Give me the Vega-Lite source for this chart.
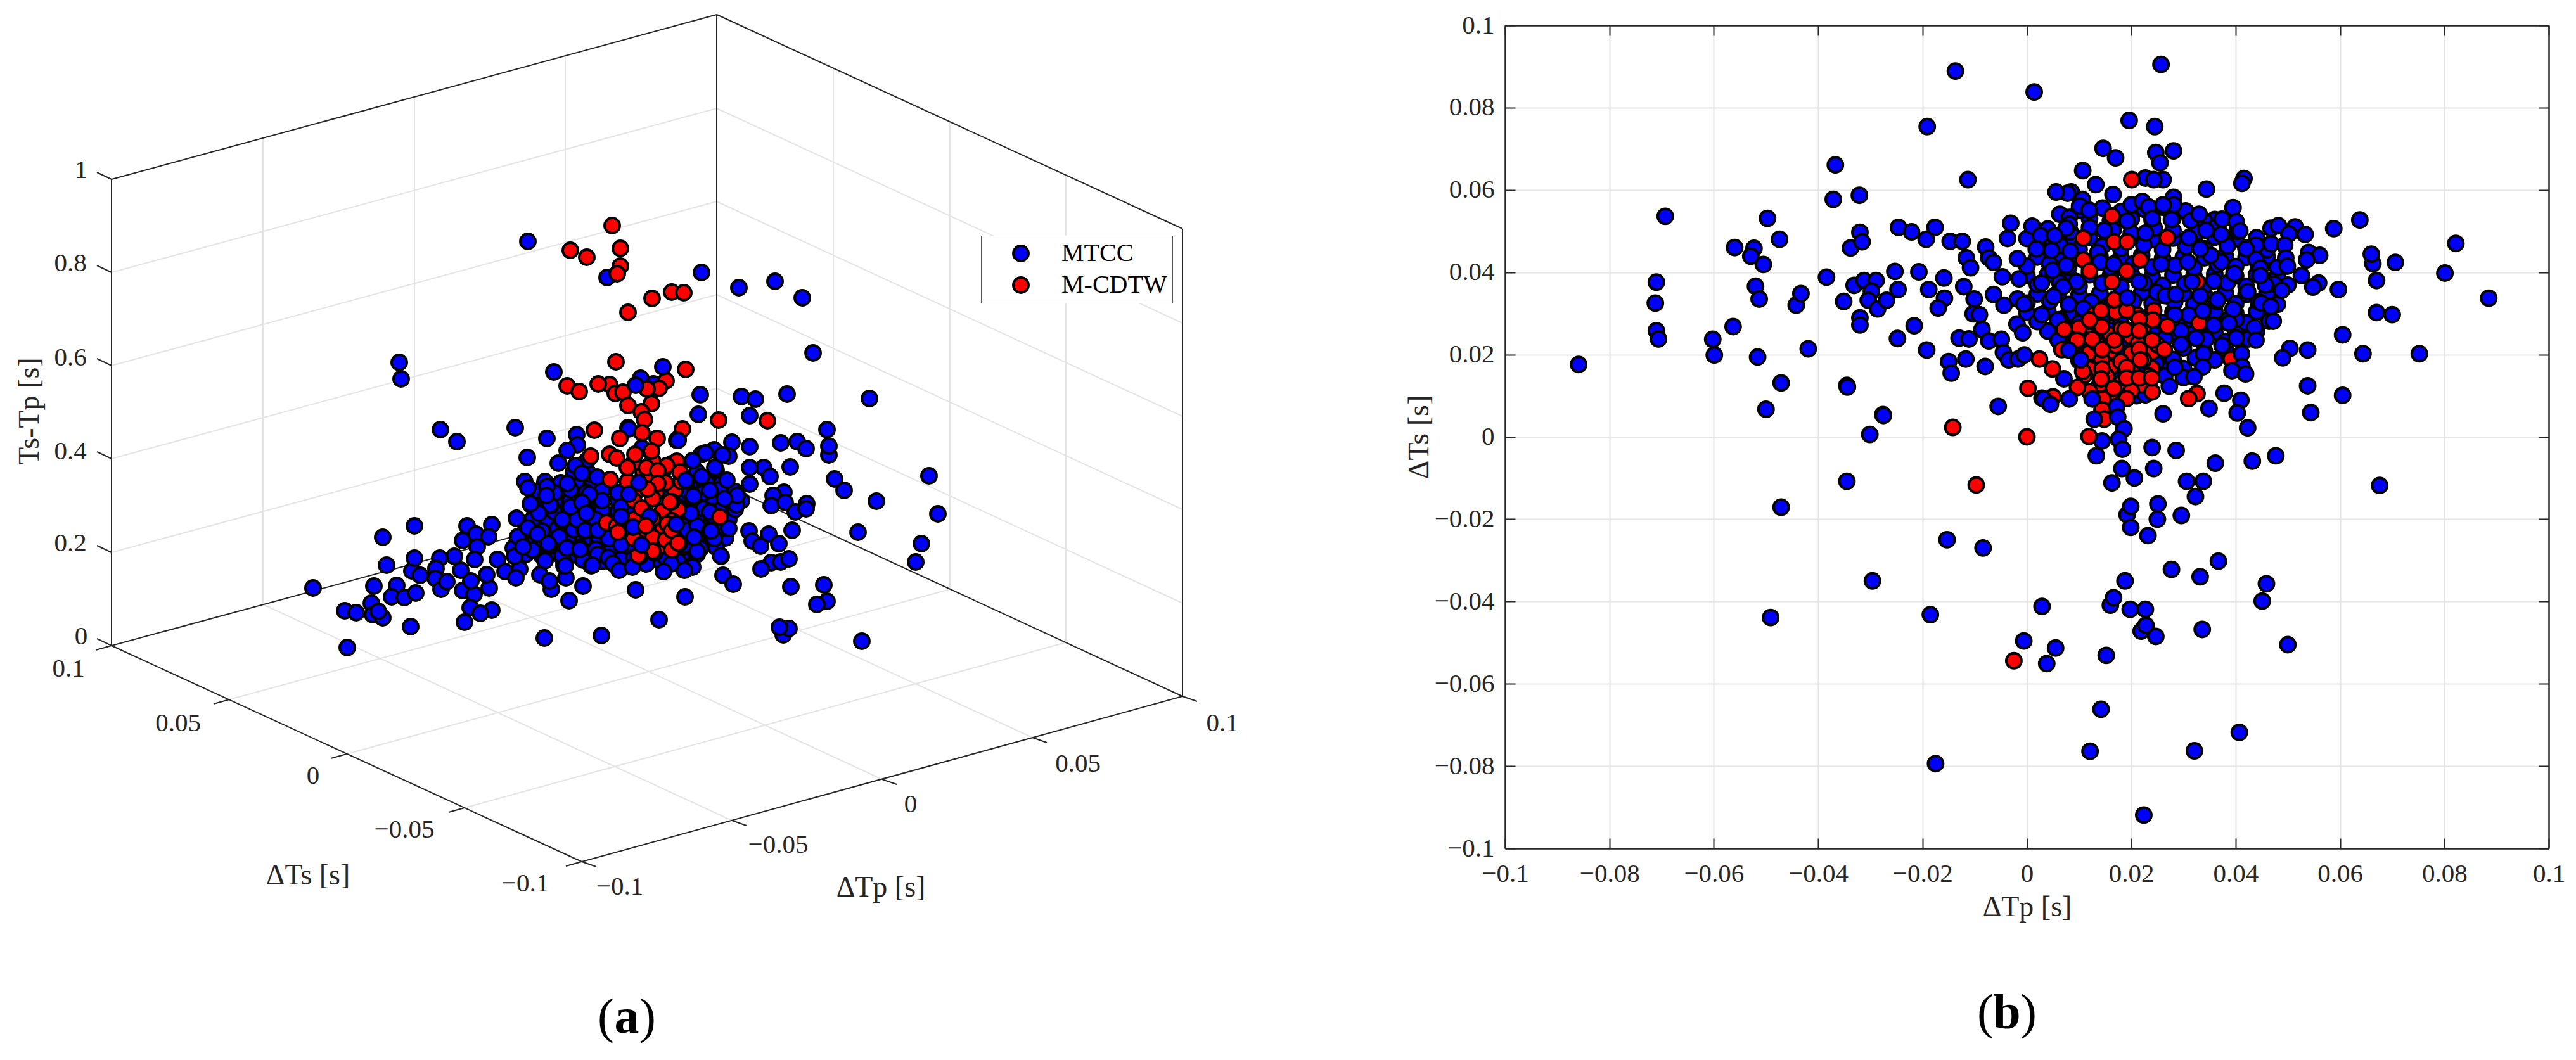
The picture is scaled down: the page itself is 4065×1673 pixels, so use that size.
{
"$schema":"https://vega.github.io/schema/vega-lite/v6.json",
"description":"MTCC vs M-CDTW residuals, 3D view (a) and plan view (b).",
"padding":{"left":0,"top":19,"right":0,"bottom":0},
"background":"white",
"config":{"view":{"stroke":null}},
"bounds":"flush",
"spacing":75,
"resolve":{"scale":{"fill":"independent"},"legend":{"fill":"independent"}},
"datasets":{
"grid3d":[
{"u":0.176,"v":0.872,"u2":1.131,"v2":0.613},{"u":0.176,"v":0.724,"u2":1.131,"v2":0.465},{"u":0.176,"v":0.577,"u2":1.131,"v2":0.318},{"u":0.176,"v":0.430,"u2":1.131,"v2":0.171},
{"u":1.131,"v":0.613,"u2":1.866,"v2":0.952},{"u":1.131,"v":0.465,"u2":1.866,"v2":0.804},{"u":1.131,"v":0.318,"u2":1.866,"v2":0.657},{"u":1.131,"v":0.171,"u2":1.866,"v2":0.510},
{"u":0.415,"v":0.954,"u2":0.415,"v2":0.218},{"u":0.654,"v":0.889,"u2":0.654,"v2":0.153},{"u":0.892,"v":0.825,"u2":0.892,"v2":0.088},
{"u":1.315,"v":0.845,"u2":1.315,"v2":0.108},{"u":1.499,"v":0.930,"u2":1.499,"v2":0.193},{"u":1.682,"v":1.014,"u2":1.682,"v2":0.277},
{"u":0.362,"v":1.104,"u2":1.315,"v2":0.845},{"u":0.547,"v":1.190,"u2":1.499,"v2":0.930},{"u":0.733,"v":1.275,"u2":1.682,"v2":1.014},
{"u":0.415,"v":0.954,"u2":1.155,"v2":1.295},{"u":0.654,"v":0.889,"u2":1.392,"v2":1.230},{"u":0.892,"v":0.825,"u2":1.629,"v2":1.164}
],
"frame3d":[
{"u":0.176,"v":0.283,"u2":0.176,"v2":1.019},{"u":0.176,"v":1.019,"u2":0.918,"v2":1.360},{"u":0.918,"v":1.360,"u2":1.866,"v2":1.099},{"u":1.866,"v":1.099,"u2":1.866,"v2":0.361},
{"u":0.176,"v":0.283,"u2":1.131,"v2":0.023},{"u":1.131,"v":0.023,"u2":1.866,"v2":0.361},{"u":1.131,"v":0.023,"u2":1.131,"v2":0.760},{"u":0.176,"v":1.019,"u2":1.131,"v2":0.760},{"u":1.131,"v":0.760,"u2":1.866,"v2":1.099},
{"u":0.153,"v":0.272,"u2":0.176,"v2":0.283},{"u":0.153,"v":0.419,"u2":0.176,"v2":0.430},{"u":0.153,"v":0.566,"u2":0.176,"v2":0.577},{"u":0.153,"v":0.713,"u2":0.176,"v2":0.724},{"u":0.153,"v":0.861,"u2":0.176,"v2":0.872},{"u":0.153,"v":1.008,"u2":0.176,"v2":1.019},
{"u":0.151,"v":1.026,"u2":0.176,"v2":1.019},{"u":0.337,"v":1.111,"u2":0.362,"v2":1.104},{"u":0.522,"v":1.197,"u2":0.547,"v2":1.190},{"u":0.708,"v":1.282,"u2":0.733,"v2":1.275},{"u":0.893,"v":1.367,"u2":0.918,"v2":1.360},
{"u":0.918,"v":1.360,"u2":0.941,"v2":1.368},{"u":1.155,"v":1.295,"u2":1.178,"v2":1.303},{"u":1.392,"v":1.230,"u2":1.415,"v2":1.238},{"u":1.629,"v":1.164,"u2":1.652,"v2":1.172},{"u":1.866,"v":1.099,"u2":1.889,"v2":1.107}
],
"text3d":[
{"u":0.128,"v":0.269,"t":"1"},{"u":0.111,"v":0.416,"t":"0.8"},{"u":0.111,"v":0.565,"t":"0.6"},{"u":0.111,"v":0.713,"t":"0.4"},{"u":0.111,"v":0.858,"t":"0.2"},{"u":0.128,"v":1.005,"t":"0"},
{"u":0.108,"v":1.056,"t":"0.1"},{"u":0.281,"v":1.142,"t":"0.05"},{"u":0.494,"v":1.225,"t":"0"},{"u":0.638,"v":1.310,"t":"−0.05"},{"u":0.829,"v":1.395,"t":"−0.1"},
{"u":0.978,"v":1.400,"t":"−0.1"},{"u":1.228,"v":1.334,"t":"−0.05"},{"u":1.437,"v":1.270,"t":"0"},{"u":1.701,"v":1.206,"t":"0.05"},{"u":1.929,"v":1.142,"t":"0.1"}
],
"title3d":[{"u":0.486,"v":1.382,"t":"ΔTs [s]"},{"u":1.390,"v":1.401,"t":"ΔTp [s]"}],
"pts_a":[
{"u":0.86,"v":0.76,"m":"MTCC"},{"u":0.885,"v":0.762,"m":"MTCC"},{"u":0.91,"v":0.759,"m":"MTCC"},{"u":0.935,"v":0.761,"m":"MTCC"},{"u":0.96,"v":0.763,"m":"MTCC"},{"u":1.09,"v":0.76,"m":"MTCC"},{"u":1.115,"v":0.762,"m":"MTCC"},{"u":1.14,"v":0.759,"m":"MTCC"},
{"u":0.85,"v":0.79,"m":"MTCC"},{"u":0.875,"v":0.792,"m":"MTCC"},{"u":0.9,"v":0.789,"m":"MTCC"},{"u":0.925,"v":0.791,"m":"MTCC"},{"u":0.95,"v":0.793,"m":"MTCC"},{"u":0.975,"v":0.79,"m":"MTCC"},{"u":1.07,"v":0.792,"m":"MTCC"},{"u":1.095,"v":0.789,"m":"MTCC"},{"u":1.12,"v":0.791,"m":"MTCC"},{"u":1.145,"v":0.793,"m":"MTCC"},{"u":1.17,"v":0.79,"m":"MTCC"},
{"u":0.84,"v":0.82,"m":"MTCC"},{"u":0.865,"v":0.822,"m":"MTCC"},{"u":0.89,"v":0.819,"m":"MTCC"},{"u":0.915,"v":0.821,"m":"MTCC"},{"u":0.94,"v":0.823,"m":"MTCC"},{"u":0.965,"v":0.82,"m":"MTCC"},{"u":0.99,"v":0.822,"m":"MTCC"},{"u":1.075,"v":0.819,"m":"MTCC"},{"u":1.1,"v":0.821,"m":"MTCC"},{"u":1.125,"v":0.823,"m":"MTCC"},{"u":1.15,"v":0.82,"m":"MTCC"},
{"u":0.82,"v":0.85,"m":"MTCC"},{"u":0.845,"v":0.852,"m":"MTCC"},{"u":0.87,"v":0.849,"m":"MTCC"},{"u":0.895,"v":0.851,"m":"MTCC"},{"u":0.92,"v":0.853,"m":"MTCC"},{"u":0.945,"v":0.85,"m":"MTCC"},{"u":0.97,"v":0.852,"m":"MTCC"},{"u":1.01,"v":0.849,"m":"MTCC"},{"u":1.04,"v":0.851,"m":"MTCC"},{"u":1.075,"v":0.853,"m":"MTCC"},{"u":1.1,"v":0.85,"m":"MTCC"},{"u":1.125,"v":0.852,"m":"MTCC"},{"u":1.145,"v":0.849,"m":"MTCC"},
{"u":0.83,"v":0.875,"m":"MTCC"},{"u":0.855,"v":0.877,"m":"MTCC"},{"u":0.88,"v":0.874,"m":"MTCC"},{"u":0.905,"v":0.876,"m":"MTCC"},{"u":0.93,"v":0.878,"m":"MTCC"},{"u":0.955,"v":0.875,"m":"MTCC"},{"u":0.985,"v":0.877,"m":"MTCC"},{"u":1.015,"v":0.874,"m":"MTCC"},{"u":1.045,"v":0.876,"m":"MTCC"},{"u":1.075,"v":0.878,"m":"MTCC"},{"u":1.1,"v":0.875,"m":"MTCC"},
{"u":0.905,"v":0.745,"m":"MTCC"},{"u":0.93,"v":0.748,"m":"MTCC"},{"u":1.1,"v":0.745,"m":"MTCC"},{"u":1.13,"v":0.742,"m":"MTCC"},
{"u":0.85,"v":0.775,"m":"MTCC"},{"u":0.875,"v":0.778,"m":"MTCC"},{"u":0.9,"v":0.773,"m":"MTCC"},{"u":0.925,"v":0.777,"m":"MTCC"},{"u":0.95,"v":0.774,"m":"MTCC"},{"u":0.975,"v":0.778,"m":"MTCC"},{"u":1.085,"v":0.775,"m":"MTCC"},{"u":1.11,"v":0.778,"m":"MTCC"},{"u":1.135,"v":0.773,"m":"MTCC"},{"u":1.16,"v":0.776,"m":"MTCC"},
{"u":0.85,"v":0.805,"m":"MTCC"},{"u":0.875,"v":0.808,"m":"MTCC"},{"u":0.9,"v":0.803,"m":"MTCC"},{"u":0.925,"v":0.806,"m":"MTCC"},{"u":0.95,"v":0.804,"m":"MTCC"},{"u":0.975,"v":0.807,"m":"MTCC"},{"u":1.0,"v":0.803,"m":"MTCC"},{"u":1.06,"v":0.805,"m":"MTCC"},{"u":1.085,"v":0.808,"m":"MTCC"},{"u":1.11,"v":0.803,"m":"MTCC"},{"u":1.135,"v":0.806,"m":"MTCC"},{"u":1.16,"v":0.804,"m":"MTCC"},
{"u":0.83,"v":0.835,"m":"MTCC"},{"u":0.855,"v":0.838,"m":"MTCC"},{"u":0.88,"v":0.833,"m":"MTCC"},{"u":0.905,"v":0.836,"m":"MTCC"},{"u":0.93,"v":0.834,"m":"MTCC"},{"u":0.955,"v":0.837,"m":"MTCC"},{"u":0.98,"v":0.833,"m":"MTCC"},{"u":1.0,"v":0.836,"m":"MTCC"},{"u":1.03,"v":0.834,"m":"MTCC"},{"u":1.085,"v":0.837,"m":"MTCC"},{"u":1.11,"v":0.833,"m":"MTCC"},{"u":1.135,"v":0.836,"m":"MTCC"},{"u":1.15,"v":0.834,"m":"MTCC"},
{"u":0.81,"v":0.865,"m":"MTCC"},{"u":0.84,"v":0.868,"m":"MTCC"},{"u":0.865,"v":0.863,"m":"MTCC"},{"u":0.89,"v":0.866,"m":"MTCC"},{"u":0.915,"v":0.864,"m":"MTCC"},{"u":0.94,"v":0.867,"m":"MTCC"},{"u":0.965,"v":0.863,"m":"MTCC"},{"u":0.99,"v":0.866,"m":"MTCC"},{"u":1.02,"v":0.864,"m":"MTCC"},{"u":1.05,"v":0.867,"m":"MTCC"},{"u":1.08,"v":0.863,"m":"MTCC"},{"u":1.105,"v":0.866,"m":"MTCC"},{"u":1.13,"v":0.864,"m":"MTCC"},
{"u":0.86,"v":0.885,"m":"MTCC"},{"u":0.89,"v":0.887,"m":"MTCC"},{"u":0.92,"v":0.884,"m":"MTCC"},{"u":0.95,"v":0.886,"m":"MTCC"},{"u":0.98,"v":0.883,"m":"MTCC"},{"u":1.01,"v":0.885,"m":"MTCC"},{"u":1.04,"v":0.884,"m":"MTCC"},{"u":1.07,"v":0.886,"m":"MTCC"},
{"u":0.494,"v":0.928,"m":"MTCC"},{"u":0.548,"v":1.022,"m":"MTCC"},{"u":0.544,"v":0.964,"m":"MTCC"},{"u":0.562,"v":0.967,"m":"MTCC"},{"u":0.586,"v":0.952,"m":"MTCC"},{"u":0.588,"v":0.970,"m":"MTCC"},{"u":0.604,"v":0.975,"m":"MTCC"},{"u":0.597,"v":0.965,"m":"MTCC"},
{"u":0.604,"v":0.848,"m":"MTCC"},{"u":0.654,"v":0.830,"m":"MTCC"},{"u":0.610,"v":0.892,"m":"MTCC"},{"u":0.590,"v":0.925,"m":"MTCC"},{"u":0.626,"v":0.924,"m":"MTCC"},{"u":0.618,"v":0.942,"m":"MTCC"},{"u":0.638,"v":0.943,"m":"MTCC"},{"u":0.656,"v":0.936,"m":"MTCC"},{"u":0.648,"v":0.989,"m":"MTCC"},
{"u":0.650,"v":0.901,"m":"MTCC"},{"u":0.654,"v":0.881,"m":"MTCC"},{"u":0.663,"v":0.908,"m":"MTCC"},{"u":0.717,"v":0.878,"m":"MTCC"},{"u":0.694,"v":0.881,"m":"MTCC"},{"u":0.688,"v":0.897,"m":"MTCC"},{"u":0.687,"v":0.913,"m":"MTCC"},{"u":0.696,"v":0.930,"m":"MTCC"},{"u":0.705,"v":0.918,"m":"MTCC"},
{"u":0.737,"v":0.830,"m":"MTCC"},{"u":0.776,"v":0.828,"m":"MTCC"},{"u":0.730,"v":0.853,"m":"MTCC"},{"u":0.751,"v":0.843,"m":"MTCC"},{"u":0.771,"v":0.847,"m":"MTCC"},{"u":0.753,"v":0.863,"m":"MTCC"},{"u":0.749,"v":0.883,"m":"MTCC"},
{"u":0.727,"v":0.900,"m":"MTCC"},{"u":0.730,"v":0.932,"m":"MTCC"},{"u":0.772,"v":0.928,"m":"MTCC"},{"u":0.748,"v":0.938,"m":"MTCC"},{"u":0.768,"v":0.907,"m":"MTCC"},{"u":0.743,"v":0.917,"m":"MTCC"},
{"u":0.742,"v":0.959,"m":"MTCC"},{"u":0.776,"v":0.963,"m":"MTCC"},{"u":0.758,"v":0.968,"m":"MTCC"},{"u":0.733,"v":0.982,"m":"MTCC"},
{"u":0.785,"v":0.883,"m":"MTCC"},{"u":0.797,"v":0.902,"m":"MTCC"},{"u":0.815,"v":0.818,"m":"MTCC"},{"u":0.820,"v":0.898,"m":"MTCC"},{"u":0.814,"v":0.912,"m":"MTCC"},{"u":0.812,"v":0.878,"m":"MTCC"},{"u":0.817,"v":0.847,"m":"MTCC"},{"u":0.825,"v":0.863,"m":"MTCC"},{"u":0.833,"v":0.833,"m":"MTCC"},
{"u":0.852,"v":0.907,"m":"MTCC"},{"u":0.870,"v":0.930,"m":"MTCC"},{"u":0.867,"v":0.917,"m":"MTCC"},{"u":0.898,"v":0.948,"m":"MTCC"},{"u":0.920,"v":0.925,"m":"MTCC"},{"u":0.893,"v":0.912,"m":"MTCC"},{"u":0.859,"v":1.007,"m":"MTCC"},{"u":0.949,"v":1.003,"m":"MTCC"},{"u":0.890,"v":0.893,"m":"MTCC"},
{"u":0.828,"v":0.760,"m":"MTCC"},{"u":0.833,"v":0.770,"m":"MTCC"},{"u":0.838,"v":0.797,"m":"MTCC"},{"u":0.863,"v":0.768,"m":"MTCC"},{"u":0.895,"v":0.763,"m":"MTCC"},{"u":0.869,"v":0.798,"m":"MTCC"},{"u":0.897,"v":0.807,"m":"MTCC"},{"u":0.925,"v":0.812,"m":"MTCC"},{"u":0.920,"v":0.793,"m":"MTCC"},{"u":0.922,"v":0.838,"m":"MTCC"},{"u":0.912,"v":0.867,"m":"MTCC"},{"u":0.893,"v":0.863,"m":"MTCC"},{"u":0.882,"v":0.849,"m":"MTCC"},{"u":0.867,"v":0.862,"m":"MTCC"},{"u":0.848,"v":0.843,"m":"MTCC"},{"u":0.887,"v":0.877,"m":"MTCC"},{"u":0.943,"v":0.875,"m":"MTCC"},{"u":0.933,"v":0.893,"m":"MTCC"},{"u":0.887,"v":0.822,"m":"MTCC"},
{"u":0.950,"v":0.790,"m":"MTCC"},{"u":0.980,"v":0.800,"m":"MTCC"},{"u":1.000,"v":0.810,"m":"MTCC"},{"u":0.960,"v":0.850,"m":"MTCC"},{"u":0.980,"v":0.860,"m":"MTCC"},{"u":1.000,"v":0.880,"m":"MTCC"},{"u":1.040,"v":0.870,"m":"MTCC"},{"u":1.060,"v":0.870,"m":"MTCC"},{"u":1.080,"v":0.860,"m":"MTCC"},{"u":1.100,"v":0.830,"m":"MTCC"},{"u":1.090,"v":0.810,"m":"MTCC"},{"u":1.060,"v":0.780,"m":"MTCC"},{"u":1.070,"v":0.800,"m":"MTCC"},{"u":0.930,"v":0.780,"m":"MTCC"},{"u":0.910,"v":0.820,"m":"MTCC"},{"u":0.940,"v":0.820,"m":"MTCC"},{"u":0.960,"v":0.880,"m":"MTCC"},{"u":1.020,"v":0.890,"m":"MTCC"},{"u":1.050,"v":0.880,"m":"MTCC"},{"u":1.100,"v":0.870,"m":"MTCC"},
{"u":0.833,"v":0.381,"m":"MTCC"},{"u":0.958,"v":0.438,"m":"MTCC"},{"u":1.107,"v":0.430,"m":"MTCC"},{"u":1.166,"v":0.454,"m":"MTCC"},{"u":1.223,"v":0.444,"m":"MTCC"},{"u":1.266,"v":0.470,"m":"MTCC"},{"u":1.283,"v":0.557,"m":"MTCC"},{"u":0.630,"v":0.572,"m":"MTCC"},{"u":0.633,"v":0.598,"m":"MTCC"},{"u":0.874,"v":0.587,"m":"MTCC"},
{"u":1.011,"v":0.597,"m":"MTCC"},{"u":1.031,"v":0.606,"m":"MTCC"},{"u":0.991,"v":0.675,"m":"MTCC"},
{"u":0.695,"v":0.678,"m":"MTCC"},{"u":0.721,"v":0.697,"m":"MTCC"},{"u":0.813,"v":0.675,"m":"MTCC"},{"u":0.863,"v":0.692,"m":"MTCC"},{"u":0.832,"v":0.722,"m":"MTCC"},
{"u":0.910,"v":0.686,"m":"MTCC"},{"u":0.911,"v":0.702,"m":"MTCC"},{"u":0.895,"v":0.711,"m":"MTCC"},{"u":0.927,"v":0.726,"m":"MTCC"},{"u":0.881,"v":0.731,"m":"MTCC"},{"u":0.908,"v":0.735,"m":"MTCC"},{"u":0.918,"v":0.747,"m":"MTCC"},{"u":0.942,"v":0.753,"m":"MTCC"},{"u":0.992,"v":0.677,"m":"MTCC"},{"u":1.013,"v":0.707,"m":"MTCC"},{"u":1.070,"v":0.693,"m":"MTCC"},
{"u":1.105,"v":0.623,"m":"MTCC"},{"u":1.102,"v":0.654,"m":"MTCC"},{"u":1.170,"v":0.626,"m":"MTCC"},{"u":1.192,"v":0.630,"m":"MTCC"},{"u":1.183,"v":0.656,"m":"MTCC"},{"u":1.242,"v":0.622,"m":"MTCC"},{"u":1.372,"v":0.629,"m":"MTCC"},{"u":1.305,"v":0.678,"m":"MTCC"},{"u":1.308,"v":0.718,"m":"MTCC"},{"u":1.308,"v":0.704,"m":"MTCC"},{"u":1.232,"v":0.699,"m":"MTCC"},{"u":1.258,"v":0.697,"m":"MTCC"},{"u":1.272,"v":0.708,"m":"MTCC"},{"u":1.247,"v":0.737,"m":"MTCC"},{"u":1.317,"v":0.756,"m":"MTCC"},{"u":1.332,"v":0.774,"m":"MTCC"},{"u":1.466,"v":0.751,"m":"MTCC"},{"u":1.383,"v":0.791,"m":"MTCC"},{"u":1.480,"v":0.811,"m":"MTCC"},{"u":1.354,"v":0.840,"m":"MTCC"},{"u":1.454,"v":0.858,"m":"MTCC"},{"u":1.445,"v":0.887,"m":"MTCC"},
{"u":1.068,"v":0.695,"m":"MTCC"},{"u":1.155,"v":0.698,"m":"MTCC"},{"u":1.183,"v":0.705,"m":"MTCC"},{"u":1.150,"v":0.720,"m":"MTCC"},{"u":1.127,"v":0.710,"m":"MTCC"},{"u":1.107,"v":0.717,"m":"MTCC"},{"u":1.093,"v":0.727,"m":"MTCC"},{"u":1.113,"v":0.715,"m":"MTCC"},{"u":1.140,"v":0.718,"m":"MTCC"},
{"u":1.128,"v":0.738,"m":"MTCC"},{"u":1.106,"v":0.753,"m":"MTCC"},{"u":1.083,"v":0.759,"m":"MTCC"},{"u":1.147,"v":0.758,"m":"MTCC"},{"u":1.205,"v":0.738,"m":"MTCC"},{"u":1.183,"v":0.738,"m":"MTCC"},{"u":1.215,"v":0.752,"m":"MTCC"},{"u":1.183,"v":0.764,"m":"MTCC"},{"u":1.120,"v":0.774,"m":"MTCC"},{"u":1.094,"v":0.785,"m":"MTCC"},{"u":1.162,"v":0.797,"m":"MTCC"},{"u":1.163,"v":0.782,"m":"MTCC"},{"u":1.143,"v":0.787,"m":"MTCC"},{"u":1.120,"v":0.807,"m":"MTCC"},
{"u":1.237,"v":0.777,"m":"MTCC"},{"u":1.220,"v":0.782,"m":"MTCC"},{"u":1.217,"v":0.798,"m":"MTCC"},{"u":1.239,"v":0.793,"m":"MTCC"},{"u":1.273,"v":0.795,"m":"MTCC"},{"u":1.255,"v":0.808,"m":"MTCC"},{"u":1.272,"v":0.803,"m":"MTCC"},{"u":1.250,"v":0.837,"m":"MTCC"},
{"u":1.182,"v":0.838,"m":"MTCC"},{"u":1.213,"v":0.843,"m":"MTCC"},{"u":1.187,"v":0.854,"m":"MTCC"},{"u":1.200,"v":0.862,"m":"MTCC"},{"u":1.229,"v":0.858,"m":"MTCC"},{"u":1.217,"v":0.888,"m":"MTCC"},{"u":1.232,"v":0.887,"m":"MTCC"},{"u":1.245,"v":0.882,"m":"MTCC"},{"u":1.201,"v":0.898,"m":"MTCC"},
{"u":1.138,"v":0.878,"m":"MTCC"},{"u":1.141,"v":0.908,"m":"MTCC"},{"u":1.157,"v":0.922,"m":"MTCC"},{"u":1.248,"v":0.926,"m":"MTCC"},{"u":1.305,"v":0.949,"m":"MTCC"},{"u":1.300,"v":0.923,"m":"MTCC"},{"u":1.289,"v":0.954,"m":"MTCC"},{"u":1.236,"v":1.002,"m":"MTCC"},{"u":1.245,"v":0.992,"m":"MTCC"},{"u":1.230,"v":0.990,"m":"MTCC"},{"u":1.360,"v":1.012,"m":"MTCC"},
{"u":1.081,"v":0.942,"m":"MTCC"},{"u":1.040,"v":0.978,"m":"MTCC"},{"u":1.003,"v":0.931,"m":"MTCC"},{"u":1.120,"v":0.837,"m":"MTCC"},{"u":1.127,"v":0.850,"m":"MTCC"},{"u":1.095,"v":0.848,"m":"MTCC"},{"u":1.122,"v":0.838,"m":"MTCC"},{"u":1.093,"v":0.895,"m":"MTCC"},{"u":1.080,"v":0.900,"m":"MTCC"},{"u":1.059,"v":0.890,"m":"MTCC"},{"u":1.047,"v":0.902,"m":"MTCC"},
{"u":0.868,"v":0.797,"m":"MTCC"},{"u":0.862,"v":0.782,"m":"MTCC"},{"u":0.850,"v":0.810,"m":"MTCC"},{"u":0.837,"v":0.795,"m":"MTCC"},{"u":0.900,"v":0.800,"m":"MTCC"},{"u":0.918,"v":0.793,"m":"MTCC"},{"u":0.925,"v":0.810,"m":"MTCC"},{"u":0.887,"v":0.820,"m":"MTCC"},{"u":0.882,"v":0.847,"m":"MTCC"},{"u":0.865,"v":0.858,"m":"MTCC"},{"u":0.923,"v":0.837,"m":"MTCC"},{"u":0.943,"v":0.837,"m":"MTCC"},{"u":0.894,"v":0.865,"m":"MTCC"},{"u":0.915,"v":0.867,"m":"MTCC"},
{"u":0.892,"v":0.893,"m":"MTCC"},{"u":0.935,"v":0.892,"m":"MTCC"},{"u":0.967,"v":0.889,"m":"MTCC"},{"u":0.977,"v":0.900,"m":"MTCC"},{"u":0.998,"v":0.895,"m":"MTCC"},{"u":1.033,"v":0.873,"m":"MTCC"},{"u":1.137,"v":0.877,"m":"MTCC"},
{"u":1.015,"v":0.745,"m":"M-CDTW"},{"u":1.045,"v":0.747,"m":"M-CDTW"},{"u":1.005,"v":0.775,"m":"M-CDTW"},{"u":1.035,"v":0.777,"m":"M-CDTW"},{"u":1.065,"v":0.774,"m":"M-CDTW"},{"u":1.015,"v":0.805,"m":"M-CDTW"},{"u":1.045,"v":0.807,"m":"M-CDTW"},{"u":1.07,"v":0.804,"m":"M-CDTW"},{"u":1.015,"v":0.835,"m":"M-CDTW"},{"u":1.045,"v":0.837,"m":"M-CDTW"},{"u":1.015,"v":0.86,"m":"M-CDTW"},{"u":1.045,"v":0.862,"m":"M-CDTW"},
{"u":1.0,"v":0.73,"m":"M-CDTW"},{"u":1.03,"v":0.728,"m":"M-CDTW"},{"u":1.06,"v":0.732,"m":"M-CDTW"},{"u":0.99,"v":0.76,"m":"M-CDTW"},{"u":1.02,"v":0.757,"m":"M-CDTW"},{"u":1.05,"v":0.762,"m":"M-CDTW"},{"u":1.075,"v":0.76,"m":"M-CDTW"},{"u":1.0,"v":0.79,"m":"M-CDTW"},{"u":1.03,"v":0.787,"m":"M-CDTW"},{"u":1.06,"v":0.792,"m":"M-CDTW"},{"u":1.0,"v":0.82,"m":"M-CDTW"},{"u":1.03,"v":0.818,"m":"M-CDTW"},{"u":1.06,"v":0.822,"m":"M-CDTW"},{"u":1.0,"v":0.85,"m":"M-CDTW"},{"u":1.03,"v":0.848,"m":"M-CDTW"},{"u":1.05,"v":0.852,"m":"M-CDTW"},{"u":1.03,"v":0.87,"m":"M-CDTW"},{"u":1.06,"v":0.868,"m":"M-CDTW"},
{"u":0.966,"v":0.356,"m":"M-CDTW"},{"u":0.979,"v":0.420,"m":"M-CDTW"},{"u":0.979,"v":0.392,"m":"M-CDTW"},{"u":0.974,"v":0.432,"m":"M-CDTW"},{"u":0.900,"v":0.395,"m":"M-CDTW"},{"u":0.926,"v":0.406,"m":"M-CDTW"},{"u":0.991,"v":0.493,"m":"M-CDTW"},{"u":1.029,"v":0.471,"m":"M-CDTW"},{"u":1.060,"v":0.461,"m":"M-CDTW"},{"u":1.079,"v":0.462,"m":"M-CDTW"},{"u":0.972,"v":0.571,"m":"M-CDTW"},{"u":1.082,"v":0.583,"m":"M-CDTW"},
{"u":0.895,"v":0.609,"m":"M-CDTW"},{"u":0.914,"v":0.618,"m":"M-CDTW"},{"u":0.962,"v":0.607,"m":"M-CDTW"},{"u":0.944,"v":0.606,"m":"M-CDTW"},{"u":0.971,"v":0.621,"m":"M-CDTW"},{"u":0.983,"v":0.619,"m":"M-CDTW"},{"u":1.051,"v":0.601,"m":"M-CDTW"},{"u":1.040,"v":0.613,"m":"M-CDTW"},{"u":1.021,"v":0.614,"m":"M-CDTW"},{"u":1.028,"v":0.637,"m":"M-CDTW"},{"u":0.991,"v":0.640,"m":"M-CDTW"},{"u":1.012,"v":0.650,"m":"M-CDTW"},{"u":1.017,"v":0.662,"m":"M-CDTW"},{"u":1.134,"v":0.663,"m":"M-CDTW"},{"u":1.211,"v":0.664,"m":"M-CDTW"},
{"u":1.013,"v":0.683,"m":"M-CDTW"},{"u":1.037,"v":0.692,"m":"M-CDTW"},{"u":0.978,"v":0.692,"m":"M-CDTW"},{"u":1.077,"v":0.677,"m":"M-CDTW"},{"u":0.938,"v":0.679,"m":"M-CDTW"},{"u":0.932,"v":0.720,"m":"M-CDTW"},{"u":0.962,"v":0.717,"m":"M-CDTW"},{"u":0.973,"v":0.723,"m":"M-CDTW"},{"u":1.002,"v":0.717,"m":"M-CDTW"},{"u":1.028,"v":0.712,"m":"M-CDTW"},
{"u":0.990,"v":0.738,"m":"M-CDTW"},{"u":1.020,"v":0.738,"m":"M-CDTW"},{"u":1.068,"v":0.728,"m":"M-CDTW"},{"u":1.052,"v":0.735,"m":"M-CDTW"},{"u":1.038,"v":0.743,"m":"M-CDTW"},{"u":1.073,"v":0.745,"m":"M-CDTW"},{"u":1.038,"v":0.763,"m":"M-CDTW"},{"u":0.963,"v":0.757,"m":"M-CDTW"},{"u":1.022,"v":0.772,"m":"M-CDTW"},{"u":1.057,"v":0.792,"m":"M-CDTW"},{"u":1.012,"v":0.802,"m":"M-CDTW"},
{"u":0.957,"v":0.825,"m":"M-CDTW"},{"u":0.973,"v":0.830,"m":"M-CDTW"},{"u":0.975,"v":0.840,"m":"M-CDTW"},{"u":1.053,"v":0.827,"m":"M-CDTW"},{"u":1.060,"v":0.837,"m":"M-CDTW"},{"u":1.072,"v":0.858,"m":"M-CDTW"},{"u":1.010,"v":0.878,"m":"M-CDTW"},{"u":1.007,"v":0.877,"m":"M-CDTW"},{"u":1.070,"v":0.857,"m":"M-CDTW"},
{"u":1.046,"v":0.579,"m":"MTCC"},{"u":1.003,"v":0.608,"m":"MTCC"},{"u":1.070,"v":0.695,"m":"MTCC"},{"u":1.008,"v":0.762,"m":"MTCC"},{"u":0.992,"v":0.780,"m":"MTCC"},{"u":1.082,"v":0.758,"m":"MTCC"},{"u":1.107,"v":0.752,"m":"MTCC"},{"u":1.094,"v":0.783,"m":"MTCC"},{"u":0.980,"v":0.815,"m":"MTCC"},{"u":1.025,"v":0.815,"m":"MTCC"},{"u":0.999,"v":0.832,"m":"MTCC"},{"u":1.067,"v":0.827,"m":"MTCC"},{"u":1.120,"v":0.808,"m":"MTCC"},{"u":1.093,"v":0.727,"m":"MTCC"},
{"u":1.019,"v":0.830,"m":"M-CDTW"},{"u":1.136,"v":0.816,"m":"M-CDTW"},
{"u":1.012,"v":0.860,"m":"MTCC"},{"u":1.095,"v":0.848,"m":"MTCC"}
],
"pts_b":[
{"p":0.008,"s":0.0527,"m":"MTCC"},{"p":0.012,"s":0.053,"m":"MTCC"},{"p":0.016,"s":0.0525,"m":"MTCC"},{"p":0.02,"s":0.0529,"m":"MTCC"},{"p":0.024,"s":0.0526,"m":"MTCC"},{"p":0.028,"s":0.0531,"m":"MTCC"},{"p":0.032,"s":0.0524,"m":"MTCC"},{"p":0.036,"s":0.0528,"m":"MTCC"},
{"p":0.0,"s":0.0482,"m":"MTCC"},{"p":0.004,"s":0.0485,"m":"MTCC"},{"p":0.008,"s":0.048,"m":"MTCC"},{"p":0.012,"s":0.0484,"m":"MTCC"},{"p":0.016,"s":0.0481,"m":"MTCC"},{"p":0.02,"s":0.0486,"m":"MTCC"},{"p":0.024,"s":0.0479,"m":"MTCC"},{"p":0.028,"s":0.0483,"m":"MTCC"},{"p":0.032,"s":0.048,"m":"MTCC"},{"p":0.036,"s":0.0485,"m":"MTCC"},{"p":0.04,"s":0.0481,"m":"MTCC"},{"p":0.044,"s":0.0484,"m":"MTCC"},
{"p":0.002,"s":0.0437,"m":"MTCC"},{"p":0.006,"s":0.044,"m":"MTCC"},{"p":0.01,"s":0.0435,"m":"MTCC"},{"p":0.014,"s":0.0439,"m":"MTCC"},{"p":0.018,"s":0.0436,"m":"MTCC"},{"p":0.022,"s":0.0441,"m":"MTCC"},{"p":0.026,"s":0.0434,"m":"MTCC"},{"p":0.03,"s":0.0438,"m":"MTCC"},{"p":0.034,"s":0.0435,"m":"MTCC"},{"p":0.038,"s":0.044,"m":"MTCC"},{"p":0.042,"s":0.0436,"m":"MTCC"},{"p":0.046,"s":0.0439,"m":"MTCC"},
{"p":0.0,"s":0.0392,"m":"MTCC"},{"p":0.004,"s":0.0395,"m":"MTCC"},{"p":0.008,"s":0.039,"m":"MTCC"},{"p":0.012,"s":0.0394,"m":"MTCC"},{"p":0.016,"s":0.0391,"m":"MTCC"},{"p":0.02,"s":0.0396,"m":"MTCC"},{"p":0.024,"s":0.0389,"m":"MTCC"},{"p":0.028,"s":0.0393,"m":"MTCC"},{"p":0.032,"s":0.039,"m":"MTCC"},{"p":0.036,"s":0.0395,"m":"MTCC"},{"p":0.04,"s":0.0391,"m":"MTCC"},{"p":0.044,"s":0.0394,"m":"MTCC"},{"p":0.048,"s":0.039,"m":"MTCC"},
{"p":0.002,"s":0.0347,"m":"MTCC"},{"p":0.006,"s":0.035,"m":"MTCC"},{"p":0.01,"s":0.0345,"m":"MTCC"},{"p":0.014,"s":0.0349,"m":"MTCC"},{"p":0.018,"s":0.0346,"m":"MTCC"},{"p":0.022,"s":0.0351,"m":"MTCC"},{"p":0.026,"s":0.0344,"m":"MTCC"},{"p":0.03,"s":0.0348,"m":"MTCC"},{"p":0.034,"s":0.0345,"m":"MTCC"},{"p":0.038,"s":0.035,"m":"MTCC"},{"p":0.042,"s":0.0346,"m":"MTCC"},{"p":0.046,"s":0.0349,"m":"MTCC"},
{"p":0.0,"s":0.0302,"m":"MTCC"},{"p":0.004,"s":0.0305,"m":"MTCC"},{"p":0.008,"s":0.03,"m":"MTCC"},{"p":0.012,"s":0.0304,"m":"MTCC"},{"p":0.016,"s":0.0301,"m":"MTCC"},{"p":0.02,"s":0.0306,"m":"MTCC"},{"p":0.024,"s":0.0299,"m":"MTCC"},{"p":0.028,"s":0.0303,"m":"MTCC"},{"p":0.032,"s":0.03,"m":"MTCC"},{"p":0.036,"s":0.0305,"m":"MTCC"},{"p":0.04,"s":0.0301,"m":"MTCC"},{"p":0.044,"s":0.0304,"m":"MTCC"},
{"p":0.004,"s":0.0257,"m":"MTCC"},{"p":0.008,"s":0.026,"m":"MTCC"},{"p":0.012,"s":0.0255,"m":"MTCC"},{"p":0.016,"s":0.0259,"m":"MTCC"},{"p":0.02,"s":0.0256,"m":"MTCC"},{"p":0.024,"s":0.0261,"m":"MTCC"},{"p":0.028,"s":0.0254,"m":"MTCC"},{"p":0.032,"s":0.0258,"m":"MTCC"},{"p":0.036,"s":0.0255,"m":"MTCC"},{"p":0.04,"s":0.026,"m":"MTCC"},{"p":0.044,"s":0.0256,"m":"MTCC"},
{"p":0.01,"s":0.0212,"m":"MTCC"},{"p":0.014,"s":0.0215,"m":"MTCC"},{"p":0.018,"s":0.021,"m":"MTCC"},{"p":0.022,"s":0.0214,"m":"MTCC"},{"p":0.026,"s":0.0211,"m":"MTCC"},{"p":0.03,"s":0.0216,"m":"MTCC"},{"p":0.034,"s":0.0209,"m":"MTCC"},{"p":0.038,"s":0.0213,"m":"MTCC"},
{"p":0.014,"s":0.0167,"m":"MTCC"},{"p":0.018,"s":0.017,"m":"MTCC"},{"p":0.022,"s":0.0165,"m":"MTCC"},{"p":0.026,"s":0.0169,"m":"MTCC"},{"p":0.03,"s":0.0166,"m":"MTCC"},
{"p":0.01,"s":0.055,"m":"MTCC"},{"p":0.0145,"s":0.0556,"m":"MTCC"},{"p":0.018,"s":0.0547,"m":"MTCC"},{"p":0.0225,"s":0.0553,"m":"MTCC"},{"p":0.026,"s":0.0558,"m":"MTCC"},{"p":0.0304,"s":0.0549,"m":"MTCC"},{"p":0.034,"s":0.0525,"m":"MTCC"},
{"p":0.004,"s":0.0505,"m":"MTCC"},{"p":0.0083,"s":0.0498,"m":"MTCC"},{"p":0.012,"s":0.0509,"m":"MTCC"},{"p":0.0165,"s":0.0502,"m":"MTCC"},{"p":0.02,"s":0.0495,"m":"MTCC"},{"p":0.0244,"s":0.0507,"m":"MTCC"},{"p":0.028,"s":0.0501,"m":"MTCC"},{"p":0.0325,"s":0.0497,"m":"MTCC"},{"p":0.036,"s":0.0508,"m":"MTCC"},{"p":0.0403,"s":0.0499,"m":"MTCC"},
{"p":0.002,"s":0.046,"m":"MTCC"},{"p":0.0064,"s":0.0465,"m":"MTCC"},{"p":0.01,"s":0.0456,"m":"MTCC"},{"p":0.0144,"s":0.0463,"m":"MTCC"},{"p":0.018,"s":0.0458,"m":"MTCC"},{"p":0.0224,"s":0.0466,"m":"MTCC"},{"p":0.026,"s":0.0455,"m":"MTCC"},{"p":0.0305,"s":0.0462,"m":"MTCC"},{"p":0.034,"s":0.0457,"m":"MTCC"},{"p":0.0384,"s":0.0464,"m":"MTCC"},{"p":0.042,"s":0.0459,"m":"MTCC"},{"p":0.046,"s":0.0455,"m":"MTCC"},
{"p":0.0,"s":0.0415,"m":"MTCC"},{"p":0.0043,"s":0.0421,"m":"MTCC"},{"p":0.008,"s":0.0412,"m":"MTCC"},{"p":0.0124,"s":0.0418,"m":"MTCC"},{"p":0.016,"s":0.0411,"m":"MTCC"},{"p":0.0203,"s":0.042,"m":"MTCC"},{"p":0.024,"s":0.0413,"m":"MTCC"},{"p":0.0284,"s":0.0417,"m":"MTCC"},{"p":0.032,"s":0.041,"m":"MTCC"},{"p":0.0365,"s":0.0419,"m":"MTCC"},{"p":0.04,"s":0.0414,"m":"MTCC"},{"p":0.0444,"s":0.0416,"m":"MTCC"},{"p":0.048,"s":0.0412,"m":"MTCC"},
{"p":0.002,"s":0.037,"m":"MTCC"},{"p":0.0063,"s":0.0375,"m":"MTCC"},{"p":0.01,"s":0.0366,"m":"MTCC"},{"p":0.0144,"s":0.0373,"m":"MTCC"},{"p":0.018,"s":0.0365,"m":"MTCC"},{"p":0.0224,"s":0.0374,"m":"MTCC"},{"p":0.026,"s":0.0368,"m":"MTCC"},{"p":0.0303,"s":0.0372,"m":"MTCC"},{"p":0.034,"s":0.0367,"m":"MTCC"},{"p":0.0384,"s":0.0374,"m":"MTCC"},{"p":0.042,"s":0.0366,"m":"MTCC"},{"p":0.0464,"s":0.0372,"m":"MTCC"},{"p":0.05,"s":0.0369,"m":"MTCC"},
{"p":0.0,"s":0.0325,"m":"MTCC"},{"p":0.0044,"s":0.033,"m":"MTCC"},{"p":0.008,"s":0.0322,"m":"MTCC"},{"p":0.0123,"s":0.0328,"m":"MTCC"},{"p":0.016,"s":0.0321,"m":"MTCC"},{"p":0.0204,"s":0.033,"m":"MTCC"},{"p":0.024,"s":0.0324,"m":"MTCC"},{"p":0.0283,"s":0.0327,"m":"MTCC"},{"p":0.032,"s":0.0321,"m":"MTCC"},{"p":0.0364,"s":0.0329,"m":"MTCC"},{"p":0.04,"s":0.0323,"m":"MTCC"},{"p":0.0444,"s":0.0328,"m":"MTCC"},{"p":0.048,"s":0.0322,"m":"MTCC"},
{"p":0.002,"s":0.028,"m":"MTCC"},{"p":0.0064,"s":0.0285,"m":"MTCC"},{"p":0.01,"s":0.0276,"m":"MTCC"},{"p":0.0143,"s":0.0283,"m":"MTCC"},{"p":0.018,"s":0.0277,"m":"MTCC"},{"p":0.0224,"s":0.0284,"m":"MTCC"},{"p":0.026,"s":0.0278,"m":"MTCC"},{"p":0.0303,"s":0.0282,"m":"MTCC"},{"p":0.034,"s":0.0276,"m":"MTCC"},{"p":0.0384,"s":0.0283,"m":"MTCC"},{"p":0.042,"s":0.0277,"m":"MTCC"},{"p":0.0464,"s":0.0281,"m":"MTCC"},
{"p":0.006,"s":0.0235,"m":"MTCC"},{"p":0.0103,"s":0.024,"m":"MTCC"},{"p":0.014,"s":0.0232,"m":"MTCC"},{"p":0.0184,"s":0.0238,"m":"MTCC"},{"p":0.022,"s":0.0231,"m":"MTCC"},{"p":0.0264,"s":0.0239,"m":"MTCC"},{"p":0.03,"s":0.0233,"m":"MTCC"},{"p":0.0343,"s":0.0237,"m":"MTCC"},{"p":0.038,"s":0.0232,"m":"MTCC"},{"p":0.0424,"s":0.0238,"m":"MTCC"},
{"p":0.012,"s":0.019,"m":"MTCC"},{"p":0.0164,"s":0.0194,"m":"MTCC"},{"p":0.02,"s":0.0187,"m":"MTCC"},{"p":0.0244,"s":0.0193,"m":"MTCC"},{"p":0.028,"s":0.0188,"m":"MTCC"},{"p":0.0323,"s":0.0192,"m":"MTCC"},{"p":0.036,"s":0.0187,"m":"MTCC"},
{"p":0.014,"s":0.0145,"m":"MTCC"},{"p":0.0183,"s":0.015,"m":"MTCC"},{"p":0.022,"s":0.0143,"m":"MTCC"},{"p":0.0264,"s":0.0148,"m":"MTCC"},{"p":0.03,"s":0.0144,"m":"MTCC"},
{"p":-0.0859,"s":0.0176,"m":"MTCC"},{"p":-0.0693,"s":0.0536,"m":"MTCC"},{"p":-0.071,"s":0.0376,"m":"MTCC"},{"p":-0.0712,"s":0.0325,"m":"MTCC"},{"p":-0.071,"s":0.0258,"m":"MTCC"},{"p":-0.0706,"s":0.0238,"m":"MTCC"},{"p":-0.0602,"s":0.0237,"m":"MTCC"},{"p":-0.0599,"s":0.0199,"m":"MTCC"},{"p":-0.0563,"s":0.0268,"m":"MTCC"},{"p":-0.056,"s":0.046,"m":"MTCC"},{"p":-0.0523,"s":0.0458,"m":"MTCC"},{"p":-0.0529,"s":0.0439,"m":"MTCC"},{"p":-0.0505,"s":0.0419,"m":"MTCC"},{"p":-0.052,"s":0.0366,"m":"MTCC"},{"p":-0.0513,"s":0.0335,"m":"MTCC"},{"p":-0.0516,"s":0.0194,"m":"MTCC"},{"p":-0.0497,"s":0.0531,"m":"MTCC"},{"p":-0.0474,"s":0.048,"m":"MTCC"},{"p":-0.0471,"s":0.0131,"m":"MTCC"},{"p":-0.05,"s":0.0067,"m":"MTCC"},{"p":-0.0491,"s":-0.0439,"m":"MTCC"},{"p":-0.0471,"s":-0.0171,"m":"MTCC"},{"p":-0.0442,"s":0.032,"m":"MTCC"},{"p":-0.0433,"s":0.0348,"m":"MTCC"},{"p":-0.0419,"s":0.0214,"m":"MTCC"},{"p":-0.0384,"s":0.0388,"m":"MTCC"},{"p":-0.0367,"s":0.0661,"m":"MTCC"},{"p":-0.0371,"s":0.0577,"m":"MTCC"},{"p":-0.0321,"s":0.0587,"m":"MTCC"},
{"p":-0.032,"s":0.0497,"m":"MTCC"},{"p":-0.0338,"s":0.0459,"m":"MTCC"},{"p":-0.0316,"s":0.0474,"m":"MTCC"},{"p":-0.0351,"s":0.0329,"m":"MTCC"},{"p":-0.0331,"s":0.0368,"m":"MTCC"},{"p":-0.0312,"s":0.038,"m":"MTCC"},{"p":-0.0289,"s":0.038,"m":"MTCC"},{"p":-0.0298,"s":0.0354,"m":"MTCC"},{"p":-0.0304,"s":0.0332,"m":"MTCC"},{"p":-0.0286,"s":0.0311,"m":"MTCC"},{"p":-0.0269,"s":0.0332,"m":"MTCC"},{"p":-0.032,"s":0.0289,"m":"MTCC"},{"p":-0.032,"s":0.0272,"m":"MTCC"},{"p":-0.0345,"s":0.0125,"m":"MTCC"},{"p":-0.0276,"s":0.0054,"m":"MTCC"},{"p":-0.0301,"s":0.0006,"m":"MTCC"},{"p":-0.0345,"s":-0.0108,"m":"MTCC"},{"p":-0.0296,"s":-0.035,"m":"MTCC"},{"p":-0.0344,"s":0.0121,"m":"MTCC"},{"p":-0.0275,"s":0.0052,"m":"MTCC"},
{"p":-0.0247,"s":0.0358,"m":"MTCC"},{"p":-0.0253,"s":0.0402,"m":"MTCC"},{"p":-0.0246,"s":0.0509,"m":"MTCC"},{"p":-0.0221,"s":0.0498,"m":"MTCC"},{"p":-0.0193,"s":0.048,"m":"MTCC"},{"p":-0.0176,"s":0.0509,"m":"MTCC"},{"p":-0.0207,"s":0.0401,"m":"MTCC"},{"p":-0.0188,"s":0.0358,"m":"MTCC"},{"p":-0.0159,"s":0.0386,"m":"MTCC"},{"p":-0.0158,"s":0.0337,"m":"MTCC"},{"p":-0.017,"s":0.0313,"m":"MTCC"},{"p":-0.0216,"s":0.027,"m":"MTCC"},{"p":-0.0248,"s":0.0239,"m":"MTCC"},{"p":-0.0192,"s":0.0211,"m":"MTCC"},{"p":-0.015,"s":0.0183,"m":"MTCC"},{"p":-0.0145,"s":0.0155,"m":"MTCC"},{"p":-0.0117,"s":0.0189,"m":"MTCC"},{"p":-0.008,"s":0.0171,"m":"MTCC"},
{"p":-0.0191,"s":0.0754,"m":"MTCC"},{"p":-0.0137,"s":0.0889,"m":"MTCC"},{"p":-0.0113,"s":0.0625,"m":"MTCC"},{"p":-0.0147,"s":0.0475,"m":"MTCC"},{"p":-0.0124,"s":0.0475,"m":"MTCC"},{"p":-0.0116,"s":0.0435,"m":"MTCC"},{"p":-0.0108,"s":0.0411,"m":"MTCC"},{"p":-0.0079,"s":0.0461,"m":"MTCC"},{"p":-0.0073,"s":0.0435,"m":"MTCC"},{"p":-0.0064,"s":0.0424,"m":"MTCC"},{"p":-0.0121,"s":0.0365,"m":"MTCC"},{"p":-0.0101,"s":0.0335,"m":"MTCC"},{"p":-0.0103,"s":0.0299,"m":"MTCC"},{"p":-0.0091,"s":0.0297,"m":"MTCC"},{"p":-0.0086,"s":0.0261,"m":"MTCC"},{"p":-0.0073,"s":0.0233,"m":"MTCC"},{"p":-0.0049,"s":0.0237,"m":"MTCC"},{"p":-0.013,"s":0.024,"m":"MTCC"},{"p":-0.0111,"s":0.0238,"m":"MTCC"},
{"p":-0.0031,"s":0.0519,"m":"MTCC"},{"p":-0.0037,"s":0.0482,"m":"MTCC"},{"p":-0.0018,"s":0.0433,"m":"MTCC"},{"p":-0.0015,"s":0.0384,"m":"MTCC"},{"p":-0.0047,"s":0.0389,"m":"MTCC"},{"p":-0.0064,"s":0.0346,"m":"MTCC"},{"p":-0.0044,"s":0.032,"m":"MTCC"},{"p":-0.0018,"s":0.0335,"m":"MTCC"},{"p":-0.0006,"s":0.0323,"m":"MTCC"},{"p":-0.0019,"s":0.0274,"m":"MTCC"},{"p":-0.0008,"s":0.0253,"m":"MTCC"},{"p":-0.0045,"s":0.0205,"m":"MTCC"},{"p":-0.0035,"s":0.0187,"m":"MTCC"},{"p":-0.0017,"s":0.0189,"m":"MTCC"},{"p":-0.0005,"s":0.0199,"m":"MTCC"},{"p":-0.0055,"s":0.0074,"m":"MTCC"},
{"p":-0.0084,"s":-0.027,"m":"MTCC"},{"p":-0.0153,"s":-0.025,"m":"MTCC"},{"p":-0.0185,"s":-0.0432,"m":"MTCC"},{"p":-0.0175,"s":-0.0794,"m":"MTCC"},{"p":-0.0006,"s":-0.0496,"m":"MTCC"},{"p":0.0014,"s":0.0838,"m":"MTCC"},{"p":0.0029,"s":0.0094,"m":"MTCC"},{"p":0.0043,"s":0.0082,"m":"MTCC"},{"p":0.0029,"s":-0.0412,"m":"MTCC"},{"p":0.0038,"s":-0.0551,"m":"MTCC"},{"p":0.0055,"s":-0.0513,"m":"MTCC"},{"p":0.0152,"s":-0.0531,"m":"MTCC"},{"p":0.016,"s":-0.0409,"m":"MTCC"},{"p":0.0166,"s":-0.0391,"m":"MTCC"},{"p":0.0142,"s":-0.0662,"m":"MTCC"},{"p":0.0121,"s":-0.0764,"m":"MTCC"},{"p":0.0188,"s":-0.035,"m":"MTCC"},{"p":0.0198,"s":-0.0419,"m":"MTCC"},{"p":0.0227,"s":-0.0419,"m":"MTCC"},{"p":0.0219,"s":-0.0472,"m":"MTCC"},{"p":0.0228,"s":-0.0458,"m":"MTCC"},{"p":0.0247,"s":-0.0485,"m":"MTCC"},{"p":0.0321,"s":-0.0763,"m":"MTCC"},{"p":0.0407,"s":-0.0718,"m":"MTCC"},{"p":0.0224,"s":-0.0919,"m":"MTCC"},{"p":0.0336,"s":-0.0468,"m":"MTCC"},{"p":0.05,"s":-0.0505,"m":"MTCC"},{"p":0.0451,"s":-0.0399,"m":"MTCC"},{"p":0.0459,"s":-0.0357,"m":"MTCC"},{"p":0.0332,"s":-0.034,"m":"MTCC"},{"p":0.0367,"s":-0.0302,"m":"MTCC"},{"p":0.0277,"s":-0.0322,"m":"MTCC"},{"p":0.0296,"s":-0.0191,"m":"MTCC"},{"p":0.0192,"s":-0.0189,"m":"MTCC"},{"p":0.0199,"s":-0.0169,"m":"MTCC"},{"p":0.0199,"s":-0.022,"m":"MTCC"},{"p":0.0232,"s":-0.024,"m":"MTCC"},{"p":0.025,"s":-0.02,"m":"MTCC"},{"p":0.0251,"s":-0.0163,"m":"MTCC"},{"p":0.0323,"s":-0.0145,"m":"MTCC"},{"p":0.0306,"s":-0.0108,"m":"MTCC"},{"p":0.0338,"s":-0.0108,"m":"MTCC"},{"p":0.0361,"s":-0.0064,"m":"MTCC"},{"p":0.0286,"s":-0.0033,"m":"MTCC"},{"p":0.024,"s":-0.0026,"m":"MTCC"},{"p":0.0243,"s":-0.0077,"m":"MTCC"},{"p":0.0206,"s":-0.01,"m":"MTCC"},{"p":0.0182,"s":-0.0077,"m":"MTCC"},{"p":0.0163,"s":-0.0112,"m":"MTCC"},{"p":0.0133,"s":-0.0046,"m":"MTCC"},{"p":0.0144,"s":-0.001,"m":"MTCC"},{"p":0.0432,"s":-0.0059,"m":"MTCC"},{"p":0.0477,"s":-0.0046,"m":"MTCC"},{"p":0.0676,"s":-0.0118,"m":"MTCC"},
{"p":0.0146,"s":0.0701,"m":"MTCC"},{"p":0.017,"s":0.0678,"m":"MTCC"},{"p":0.0247,"s":0.0691,"m":"MTCC"},{"p":0.0281,"s":0.0695,"m":"MTCC"},{"p":0.0255,"s":0.0666,"m":"MTCC"},{"p":0.0107,"s":0.0647,"m":"MTCC"},{"p":0.0227,"s":0.0629,"m":"MTCC"},{"p":0.0261,"s":0.0625,"m":"MTCC"},{"p":0.0243,"s":0.0625,"m":"MTCC"},{"p":0.0344,"s":0.0602,"m":"MTCC"},{"p":0.0416,"s":0.0628,"m":"MTCC"},{"p":0.0412,"s":0.0616,"m":"MTCC"},{"p":0.0132,"s":0.0613,"m":"MTCC"},{"p":0.0245,"s":0.0754,"m":"MTCC"},{"p":0.0196,"s":0.0769,"m":"MTCC"},{"p":0.0257,"s":0.0905,"m":"MTCC"},
{"p":0.0085,"s":0.0595,"m":"MTCC"},{"p":0.0078,"s":0.0592,"m":"MTCC"},{"p":0.0056,"s":0.0595,"m":"MTCC"},{"p":0.0165,"s":0.0589,"m":"MTCC"},{"p":0.0106,"s":0.0577,"m":"MTCC"},{"p":0.0101,"s":0.0561,"m":"MTCC"},{"p":0.02,"s":0.0564,"m":"MTCC"},{"p":0.0221,"s":0.0572,"m":"MTCC"},{"p":0.0233,"s":0.0559,"m":"MTCC"},{"p":0.0281,"s":0.0582,"m":"MTCC"},{"p":0.0281,"s":0.0564,"m":"MTCC"},{"p":0.0261,"s":0.0564,"m":"MTCC"},{"p":0.0395,"s":0.0557,"m":"MTCC"},{"p":0.0063,"s":0.0541,"m":"MTCC"},{"p":0.0081,"s":0.0533,"m":"MTCC"},{"p":0.0119,"s":0.0551,"m":"MTCC"},{"p":0.0081,"s":0.0517,"m":"MTCC"},
{"p":0.0192,"s":0.0525,"m":"MTCC"},{"p":0.024,"s":0.0531,"m":"MTCC"},{"p":0.0277,"s":0.0528,"m":"MTCC"},{"p":0.0314,"s":0.0526,"m":"MTCC"},{"p":0.033,"s":0.0541,"m":"MTCC"},{"p":0.0374,"s":0.0529,"m":"MTCC"},{"p":0.0401,"s":0.0523,"m":"MTCC"},{"p":0.0408,"s":0.0501,"m":"MTCC"},{"p":0.0372,"s":0.0492,"m":"MTCC"},{"p":0.0343,"s":0.0502,"m":"MTCC"},{"p":0.0468,"s":0.0507,"m":"MTCC"},{"p":0.0482,"s":0.0513,"m":"MTCC"},{"p":0.0514,"s":0.051,"m":"MTCC"},{"p":0.0502,"s":0.0493,"m":"MTCC"},{"p":0.0533,"s":0.0492,"m":"MTCC"},{"p":0.0588,"s":0.0506,"m":"MTCC"},{"p":0.0468,"s":0.0469,"m":"MTCC"},{"p":0.0494,"s":0.0466,"m":"MTCC"},{"p":0.0439,"s":0.0466,"m":"MTCC"},{"p":0.042,"s":0.0457,"m":"MTCC"},{"p":0.0439,"s":0.0431,"m":"MTCC"},{"p":0.0447,"s":0.041,"m":"MTCC"},{"p":0.0496,"s":0.0435,"m":"MTCC"},{"p":0.0499,"s":0.0415,"m":"MTCC"},{"p":0.054,"s":0.0448,"m":"MTCC"},{"p":0.0561,"s":0.0441,"m":"MTCC"},{"p":0.0536,"s":0.043,"m":"MTCC"},{"p":0.0526,"s":0.0392,"m":"MTCC"},{"p":0.0559,"s":0.0374,"m":"MTCC"},{"p":0.0548,"s":0.0364,"m":"MTCC"},{"p":0.0597,"s":0.0358,"m":"MTCC"},{"p":0.0474,"s":0.0371,"m":"MTCC"},{"p":0.0457,"s":0.0369,"m":"MTCC"},{"p":0.0488,"s":0.0356,"m":"MTCC"},{"p":0.0447,"s":0.0392,"m":"MTCC"},{"p":0.0423,"s":0.0353,"m":"MTCC"},{"p":0.0397,"s":0.0397,"m":"MTCC"},{"p":0.0358,"s":0.0379,"m":"MTCC"},{"p":0.0372,"s":0.0425,"m":"MTCC"},{"p":0.0352,"s":0.0441,"m":"MTCC"},{"p":0.0332,"s":0.0457,"m":"MTCC"},{"p":0.031,"s":0.0484,"m":"MTCC"},{"p":0.0227,"s":0.0495,"m":"MTCC"},{"p":0.0148,"s":0.0502,"m":"MTCC"},{"p":0.0075,"s":0.0507,"m":"MTCC"},{"p":0.001,"s":0.0512,"m":"MTCC"},{"p":0.0026,"s":0.0489,"m":"MTCC"},{"p":0.0053,"s":0.0489,"m":"MTCC"},{"p":0.0018,"s":0.0457,"m":"MTCC"},{"p":0.0047,"s":0.0453,"m":"MTCC"},{"p":0.0083,"s":0.0451,"m":"MTCC"},{"p":0.0136,"s":0.0448,"m":"MTCC"},{"p":0.014,"s":0.0425,"m":"MTCC"},{"p":0.0166,"s":0.042,"m":"MTCC"},{"p":0.0257,"s":0.042,"m":"MTCC"},{"p":0.0308,"s":0.0425,"m":"MTCC"},{"p":0.0215,"s":0.0377,"m":"MTCC"},
{"p":0.0049,"s":0.0405,"m":"MTCC"},{"p":0.0075,"s":0.0417,"m":"MTCC"},{"p":0.0028,"s":0.0374,"m":"MTCC"},{"p":0.0095,"s":0.0377,"m":"MTCC"},{"p":0.0069,"s":0.0365,"m":"MTCC"},{"p":0.0051,"s":0.0341,"m":"MTCC"},{"p":0.0249,"s":0.0351,"m":"MTCC"},{"p":0.0265,"s":0.0343,"m":"MTCC"},{"p":0.0285,"s":0.0346,"m":"MTCC"},{"p":0.0332,"s":0.0343,"m":"MTCC"},{"p":0.0365,"s":0.0333,"m":"MTCC"},{"p":0.0449,"s":0.0325,"m":"MTCC"},{"p":0.0467,"s":0.0317,"m":"MTCC"},{"p":0.0472,"s":0.0281,"m":"MTCC"},{"p":0.0436,"s":0.0266,"m":"MTCC"},{"p":0.0401,"s":0.0286,"m":"MTCC"},{"p":0.0395,"s":0.031,"m":"MTCC"},{"p":0.0387,"s":0.0276,"m":"MTCC"},{"p":0.031,"s":0.0296,"m":"MTCC"},{"p":0.0283,"s":0.0297,"m":"MTCC"},{"p":0.0401,"s":0.024,"m":"MTCC"},{"p":0.0439,"s":0.0235,"m":"MTCC"},{"p":0.0295,"s":0.0258,"m":"MTCC"},{"p":0.0374,"s":0.0222,"m":"MTCC"},{"p":0.0295,"s":0.0225,"m":"MTCC"},{"p":0.0338,"s":0.0202,"m":"MTCC"},{"p":0.0337,"s":0.017,"m":"MTCC"},
{"p":0.0504,"s":0.0215,"m":"MTCC"},{"p":0.049,"s":0.0192,"m":"MTCC"},{"p":0.0538,"s":0.0211,"m":"MTCC"},{"p":0.0605,"s":0.0248,"m":"MTCC"},{"p":0.0538,"s":0.0124,"m":"MTCC"},{"p":0.0605,"s":0.0101,"m":"MTCC"},{"p":0.0544,"s":0.0059,"m":"MTCC"},{"p":0.0378,"s":0.0106,"m":"MTCC"},{"p":0.041,"s":0.0089,"m":"MTCC"},{"p":0.0403,"s":0.0058,"m":"MTCC"},{"p":0.0423,"s":0.0022,"m":"MTCC"},{"p":0.0349,"s":0.0069,"m":"MTCC"},{"p":0.0261,"s":0.0056,"m":"MTCC"},{"p":0.032,"s":0.0146,"m":"MTCC"},{"p":0.0283,"s":0.0169,"m":"MTCC"},{"p":0.0273,"s":0.0123,"m":"MTCC"},{"p":0.0247,"s":0.0179,"m":"MTCC"},
{"p":0.0644,"s":0.0202,"m":"MTCC"},{"p":0.0752,"s":0.0202,"m":"MTCC"},{"p":0.0885,"s":0.0337,"m":"MTCC"},{"p":0.0822,"s":0.047,"m":"MTCC"},{"p":0.0801,"s":0.0398,"m":"MTCC"},{"p":0.0706,"s":0.0424,"m":"MTCC"},{"p":0.07,"s":0.0297,"m":"MTCC"},{"p":0.067,"s":0.0302,"m":"MTCC"},{"p":0.067,"s":0.038,"m":"MTCC"},{"p":0.0663,"s":0.0421,"m":"MTCC"},{"p":0.066,"s":0.0444,"m":"MTCC"},{"p":0.0638,"s":0.0527,"m":"MTCC"},
{"p":0.0071,"s":0.0141,"m":"MTCC"},{"p":0.0028,"s":0.0297,"m":"MTCC"},{"p":0.0059,"s":0.0284,"m":"MTCC"},{"p":0.0108,"s":0.0312,"m":"MTCC"},{"p":0.021,"s":0.01,"m":"MTCC"},{"p":0.0227,"s":0.0102,"m":"MTCC"},
{"p":0.012,"s":0.0245,"m":"M-CDTW"},{"p":0.016,"s":0.0248,"m":"M-CDTW"},{"p":0.02,"s":0.0243,"m":"M-CDTW"},{"p":0.012,"s":0.0205,"m":"M-CDTW"},{"p":0.016,"s":0.0208,"m":"M-CDTW"},{"p":0.02,"s":0.0203,"m":"M-CDTW"},{"p":0.024,"s":0.0206,"m":"M-CDTW"},{"p":0.012,"s":0.0165,"m":"M-CDTW"},{"p":0.016,"s":0.0168,"m":"M-CDTW"},{"p":0.02,"s":0.0163,"m":"M-CDTW"},{"p":0.024,"s":0.0166,"m":"M-CDTW"},{"p":0.014,"s":0.0128,"m":"M-CDTW"},{"p":0.018,"s":0.013,"m":"M-CDTW"},{"p":0.022,"s":0.0126,"m":"M-CDTW"},
{"p":0.013,"s":0.0298,"m":"M-CDTW"},{"p":0.017,"s":0.0303,"m":"M-CDTW"},{"p":0.021,"s":0.0297,"m":"M-CDTW"},{"p":0.01,"s":0.0265,"m":"M-CDTW"},{"p":0.0143,"s":0.0268,"m":"M-CDTW"},{"p":0.018,"s":0.0262,"m":"M-CDTW"},{"p":0.0223,"s":0.0266,"m":"M-CDTW"},{"p":0.009,"s":0.0225,"m":"M-CDTW"},{"p":0.0133,"s":0.0228,"m":"M-CDTW"},{"p":0.017,"s":0.0222,"m":"M-CDTW"},{"p":0.0213,"s":0.0227,"m":"M-CDTW"},{"p":0.025,"s":0.0224,"m":"M-CDTW"},{"p":0.01,"s":0.0185,"m":"M-CDTW"},{"p":0.0143,"s":0.0188,"m":"M-CDTW"},{"p":0.018,"s":0.0183,"m":"M-CDTW"},{"p":0.0223,"s":0.0187,"m":"M-CDTW"},{"p":0.011,"s":0.015,"m":"M-CDTW"},{"p":0.0153,"s":0.0147,"m":"M-CDTW"},{"p":0.019,"s":0.0152,"m":"M-CDTW"},{"p":0.0233,"s":0.0148,"m":"M-CDTW"},{"p":0.012,"s":0.011,"m":"M-CDTW"},{"p":0.0163,"s":0.0107,"m":"M-CDTW"},{"p":0.02,"s":0.0112,"m":"M-CDTW"},{"p":0.024,"s":0.0109,"m":"M-CDTW"},
{"p":0.0201,"s":0.0625,"m":"M-CDTW"},{"p":0.0163,"s":0.0537,"m":"M-CDTW"},{"p":0.0269,"s":0.0484,"m":"M-CDTW"},{"p":0.0108,"s":0.0483,"m":"M-CDTW"},{"p":0.0167,"s":0.0474,"m":"M-CDTW"},{"p":0.0192,"s":0.0474,"m":"M-CDTW"},{"p":0.0108,"s":0.043,"m":"M-CDTW"},{"p":0.012,"s":0.0403,"m":"M-CDTW"},{"p":0.0217,"s":0.043,"m":"M-CDTW"},{"p":0.0191,"s":0.0403,"m":"M-CDTW"},{"p":0.0163,"s":0.0377,"m":"M-CDTW"},{"p":0.0326,"s":0.0377,"m":"M-CDTW"},{"p":0.0167,"s":0.0333,"m":"M-CDTW"},{"p":0.033,"s":0.0276,"m":"M-CDTW"},{"p":0.0391,"s":0.0189,"m":"M-CDTW"},
{"p":0.0142,"s":0.0307,"m":"M-CDTW"},{"p":0.0191,"s":0.0307,"m":"M-CDTW"},{"p":0.0243,"s":0.0307,"m":"M-CDTW"},{"p":0.012,"s":0.0284,"m":"M-CDTW"},{"p":0.0241,"s":0.0284,"m":"M-CDTW"},{"p":0.0215,"s":0.0286,"m":"M-CDTW"},{"p":0.0269,"s":0.0269,"m":"M-CDTW"},{"p":0.0071,"s":0.0261,"m":"M-CDTW"},{"p":0.0188,"s":0.0261,"m":"M-CDTW"},{"p":0.0215,"s":0.0258,"m":"M-CDTW"},{"p":0.0096,"s":0.0235,"m":"M-CDTW"},{"p":0.0125,"s":0.0237,"m":"M-CDTW"},{"p":0.0167,"s":0.0235,"m":"M-CDTW"},{"p":0.024,"s":0.0235,"m":"M-CDTW"},{"p":0.0067,"s":0.0212,"m":"M-CDTW"},{"p":0.0144,"s":0.0212,"m":"M-CDTW"},{"p":0.0215,"s":0.0213,"m":"M-CDTW"},{"p":0.0263,"s":0.0212,"m":"M-CDTW"},{"p":0.0217,"s":0.0187,"m":"M-CDTW"},{"p":0.0024,"s":0.0189,"m":"M-CDTW"},{"p":0.0049,"s":0.0165,"m":"M-CDTW"},{"p":0.0144,"s":0.0165,"m":"M-CDTW"},{"p":0.0107,"s":0.0159,"m":"M-CDTW"},{"p":0.0191,"s":0.0169,"m":"M-CDTW"},{"p":0.0142,"s":0.0141,"m":"M-CDTW"},{"p":0.0191,"s":0.0143,"m":"M-CDTW"},{"p":0.0215,"s":0.0143,"m":"M-CDTW"},{"p":0.0239,"s":0.0143,"m":"M-CDTW"},{"p":0.0097,"s":0.012,"m":"M-CDTW"},{"p":0.0166,"s":0.0118,"m":"M-CDTW"},{"p":0.0002,"s":0.0118,"m":"M-CDTW"},{"p":0.0191,"s":0.0093,"m":"M-CDTW"},{"p":0.0146,"s":0.0092,"m":"M-CDTW"},{"p":0.005,"s":0.0097,"m":"M-CDTW"},{"p":0.0144,"s":0.0066,"m":"M-CDTW"},{"p":0.0148,"s":0.0043,"m":"M-CDTW"},{"p":0.0326,"s":0.0105,"m":"M-CDTW"},{"p":0.031,"s":0.0093,"m":"M-CDTW"},{"p":-0.0142,"s":0.0023,"m":"M-CDTW"},{"p":0.0,"s":0.0,"m":"M-CDTW"},{"p":0.0119,"s":0.0001,"m":"M-CDTW"},{"p":-0.0097,"s":-0.0117,"m":"M-CDTW"},{"p":-0.0025,"s":-0.0544,"m":"M-CDTW"},
{"p":0.0192,"s":0.0338,"m":"MTCC"},{"p":0.0316,"s":0.0377,"m":"MTCC"},{"p":0.0358,"s":0.0271,"m":"MTCC"},{"p":0.0337,"s":0.0306,"m":"MTCC"},{"p":0.0324,"s":0.024,"m":"MTCC"},{"p":0.0411,"s":0.0202,"m":"MTCC"},{"p":0.0412,"s":0.0171,"m":"MTCC"},{"p":0.0393,"s":0.0161,"m":"MTCC"},{"p":0.0419,"s":0.0153,"m":"MTCC"},{"p":0.008,"s":0.0211,"m":"MTCC"},{"p":0.0103,"s":0.0187,"m":"MTCC"},{"p":0.0032,"s":0.0092,"m":"MTCC"},{"p":0.0045,"s":0.0079,"m":"MTCC"},{"p":0.0081,"s":0.0092,"m":"MTCC"},{"p":0.0125,"s":0.0092,"m":"MTCC"},{"p":0.0172,"s":0.0074,"m":"MTCC"},{"p":0.0129,"s":0.0043,"m":"MTCC"},{"p":0.0174,"s":0.0048,"m":"MTCC"},{"p":0.0186,"s":0.002,"m":"MTCC"},{"p":0.0176,"s":-0.0006,"m":"MTCC"},{"p":0.0183,"s":-0.003,"m":"MTCC"}
]
},
"hconcat":[
{
"width":2300,"height":1299,
"encoding":{
"x":{"field":"u","type":"quantitative","scale":{"domain":[0,2.3],"nice":false,"zero":false},"axis":null},
"y":{"field":"v","type":"quantitative","scale":{"domain":[1.339,0.04],"nice":false,"zero":false},"axis":null}
},
"layer":[
{"data":{"name":"grid3d"},"mark":{"type":"rule","color":"#e4e4e4","strokeWidth":2},"encoding":{"x2":{"field":"u2"},"y2":{"field":"v2"}}},
{"data":{"name":"frame3d"},"mark":{"type":"rule","color":"#262626","strokeWidth":2},"encoding":{"x2":{"field":"u2"},"y2":{"field":"v2"}}},
{"data":{"name":"pts_a"},"mark":{"type":"circle","size":572,"stroke":"black","strokeWidth":4,"opacity":1},
"encoding":{"fill":{"field":"m","type":"nominal","scale":{"domain":["MTCC","M-CDTW"],"range":["#0000ff","#ff0000"]},
"legend":{"title":null,"orient":"none","legendX":1548,"legendY":332,"fillColor":"white","strokeColor":"#555555","padding":8,"labelFont":"Liberation Serif","labelFontSize":40,"labelColor":"black","labelLimit":400,"symbolType":"circle","symbolSize":572,"symbolStrokeColor":"black","symbolStrokeWidth":4,"symbolOffset":35,"labelOffset":44,"rowPadding":10,"symbolOpacity":1}}}},
{"data":{"name":"text3d"},"mark":{"type":"text","font":"Liberation Serif","fontSize":41,"color":"#262626","align":"center","baseline":"middle"},"encoding":{"text":{"field":"t"}}},
{"data":{"name":"title3d"},"mark":{"type":"text","font":"Liberation Serif","fontSize":46,"color":"#262626","align":"center","baseline":"middle"},"encoding":{"text":{"field":"t"}}},
{"data":{"values":[{"u":0.047,"v":0.649,"t":"Ts-Tp [s]"}]},"mark":{"type":"text","font":"Liberation Serif","fontSize":46,"color":"#262626","align":"center","baseline":"middle","angle":270},"encoding":{"text":{"field":"t"}}},
{"data":{"values":[{"u":0.956,"v":1.607,"t":"("},{"u":1.022,"v":1.607,"t":")"}]},"mark":{"type":"text","font":"Liberation Serif","fontSize":78,"color":"black","align":"center","baseline":"middle"},"encoding":{"text":{"field":"t"}}},
{"data":{"values":[{"u":0.989,"v":1.607,"t":"a"}]},"mark":{"type":"text","font":"Liberation Serif","fontSize":78,"fontWeight":"bold","color":"black","align":"center","baseline":"middle"},"encoding":{"text":{"field":"t"}}}
]
},
{
"width":1647,"height":1299,
"resolve":{"axis":{"x":"independent","y":"independent"}},
"layer":[
{"data":{"values":[{"p":-0.1,"s":-0.1},{"p":0.1,"s":0.1}]},"mark":{"type":"point","opacity":0},
"encoding":{
"x":{"field":"p","type":"quantitative","scale":{"domain":[-0.1,0.1],"nice":false,"zero":false},
"axis":{"orient":"bottom","values":[-0.1,-0.08,-0.06,-0.04,-0.02,0,0.02,0.04,0.06,0.08,0.1],"format":".2~f","title":"ΔTp [s]","grid":true,"gridColor":"#e4e4e4","gridWidth":2,"domainColor":"#262626","domainWidth":2.5,"tickColor":"#262626","tickWidth":2,"tickSize":-16,"labelFont":"Liberation Serif","labelFontSize":41,"labelColor":"#262626","labelPadding":36,"labelFlush":false,"labelOverlap":false,"titleFont":"Liberation Serif","titleFontSize":46,"titleFontWeight":"normal","titleColor":"#262626","titlePadding":10}},
"y":{"field":"s","type":"quantitative","scale":{"domain":[-0.1,0.1],"nice":false,"zero":false},
"axis":{"orient":"left","values":[-0.1,-0.08,-0.06,-0.04,-0.02,0,0.02,0.04,0.06,0.08,0.1],"format":".2~f","title":"ΔTs [s]","grid":true,"gridColor":"#e4e4e4","gridWidth":2,"domainColor":"#262626","domainWidth":2.5,"tickColor":"#262626","tickWidth":2,"tickSize":-16,"labelFont":"Liberation Serif","labelFontSize":41,"labelColor":"#262626","labelPadding":33,"labelFlush":false,"labelOverlap":false,"titleFont":"Liberation Serif","titleFontSize":46,"titleFontWeight":"normal","titleColor":"#262626","titlePadding":0}}
}},
{"data":{"name":"pts_b"},"mark":{"type":"circle","size":572,"stroke":"black","strokeWidth":4,"opacity":1},
"encoding":{
"x":{"field":"p","type":"quantitative","scale":{"domain":[-0.1,0.1],"nice":false,"zero":false},
"axis":{"orient":"top","values":[-0.1,-0.08,-0.06,-0.04,-0.02,0,0.02,0.04,0.06,0.08,0.1],"labels":false,"title":null,"grid":false,"domainColor":"#262626","domainWidth":2.5,"tickColor":"#262626","tickWidth":2,"tickSize":-16}},
"y":{"field":"s","type":"quantitative","scale":{"domain":[-0.1,0.1],"nice":false,"zero":false},
"axis":{"orient":"right","values":[-0.1,-0.08,-0.06,-0.04,-0.02,0,0.02,0.04,0.06,0.08,0.1],"labels":false,"title":null,"grid":false,"domainColor":"#262626","domainWidth":2.5,"tickColor":"#262626","tickWidth":2,"tickSize":-16}},
"fill":{"field":"m","type":"nominal","scale":{"domain":["MTCC","M-CDTW"],"range":["#0000ff","#ff0000"]},"legend":null}
}},
{"data":{"values":[{"p":-0.00795,"s":-0.1402,"t":"("},{"p":0.0003,"s":-0.1402,"t":")"}]},"mark":{"type":"text","font":"Liberation Serif","fontSize":78,"color":"black","align":"center","baseline":"middle"},
"encoding":{"x":{"field":"p","type":"quantitative","axis":null},"y":{"field":"s","type":"quantitative","axis":null},"text":{"field":"t"}}},
{"data":{"values":[{"p":-0.00383,"s":-0.1402,"t":"b"}]},"mark":{"type":"text","font":"Liberation Serif","fontSize":78,"fontWeight":"bold","color":"black","align":"center","baseline":"middle"},
"encoding":{"x":{"field":"p","type":"quantitative","axis":null},"y":{"field":"s","type":"quantitative","axis":null},"text":{"field":"t"}}}
]
}
]
}
